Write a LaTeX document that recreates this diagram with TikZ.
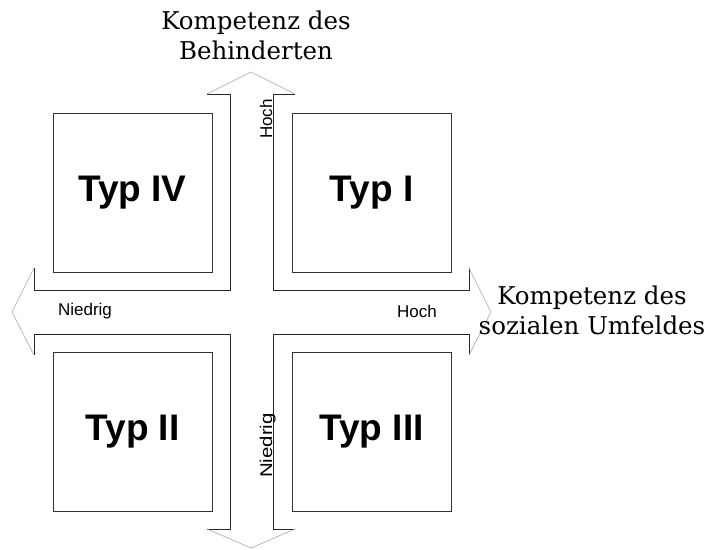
\documentclass[tikz,border=0pt]{standalone}
\usepackage{fontspec}
\newfontfamily\serifcap{DejaVu Serif}
\newfontfamily\arialish{Liberation Sans}
\begin{document}
\begin{tikzpicture}[x=1pt,y=-1pt,
  edge/.style={line width=0.8pt, black!85, line join=miter},
  tip/.style={line width=0.6pt, black!35},
  quadrant/.style={draw=black!80, line width=0.8pt, minimum width=159pt, minimum height=159pt, inner sep=0pt,
                   font=\arialish\bfseries\fontsize{37}{40}\selectfont},
  axislabel/.style={font=\serifcap\fontsize{24.5}{30}\selectfont, align=center, inner sep=0pt},
  ticklabel/.style={font=\arialish\fontsize{17}{20}\selectfont, inner sep=0pt}]
  \useasboundingbox (0,0) rectangle (714,549);

  % outline of the four-way arrow: stems and shoulders
  \coordinate (lt) at (34,268);  \coordinate (lb) at (34,355);
  \coordinate (bl) at (207,529); \coordinate (br) at (295,529);
  \coordinate (rb) at (469,355); \coordinate (rt) at (469,268);
  \coordinate (tr) at (295,94);  \coordinate (tl) at (207,94);
  \coordinate (lapex) at (12,312);  \coordinate (bapex) at (251,548);
  \coordinate (rapex) at (491,312); \coordinate (tapex) at (251,72);

  \draw[edge] (tl) -- (230,94) -- (230,290) -- (34,290) -- (lt);
  \draw[edge] (lb) -- (34,334) -- (230,334) -- (230,529) -- (bl);
  \draw[edge] (br) -- (273,529) -- (273,334) -- (469,334) -- (rb);
  \draw[edge] (rt) -- (469,290) -- (273,290) -- (273,94) -- (tr);

  % arrow heads
  \draw[tip] (lt) -- (lapex) -- (lb);
  \draw[tip] (bl) -- (bapex) -- (br);
  \draw[tip] (rb) -- (rapex) -- (rt);
  \draw[tip] (tr) -- (tapex) -- (tl);

  % the four types
  \node[quadrant] (t4) at (132.5,192.5) {Typ IV};
  \node[quadrant] (t1) at (371.5,192.5) {Typ I};
  \node[quadrant] (t2) at (132.5,432) {Typ II};
  \node[quadrant] (t3) at (371.5,432) {Typ III};

  % axis titles
  \node[axislabel, anchor=north] (ya) at (256,11) {Kompetenz des\\Behinderten};
  \node[axislabel, anchor=north] (xa) at (592,286) {Kompetenz des\\sozialen Umfeldes};

  % scale ends
  \node[ticklabel] (xlow) at (85,311) {Niedrig};
  \node[ticklabel] (xhigh) at (417,311) {Hoch};
  \node[ticklabel, rotate=90, anchor=base] (yhigh) at (272,119) {Hoch};
  \node[ticklabel, rotate=90, anchor=base] (ylow) at (272,445.5) {\scalebox{1.2}[1]{Niedrig}};
\end{tikzpicture}
\end{document}
